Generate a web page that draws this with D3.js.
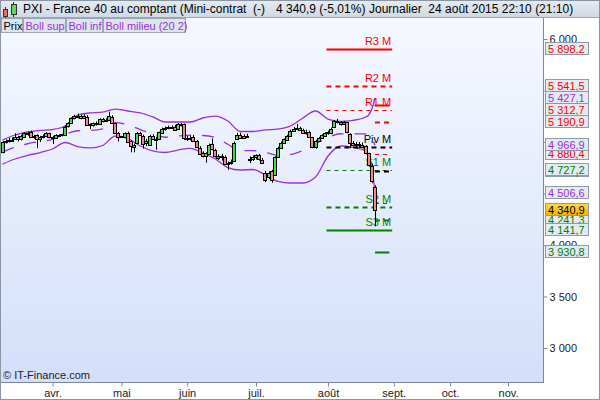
<!DOCTYPE html>
<html>
<head>
<meta charset="utf-8">
<script src="https://cdn.jsdelivr.net/npm/d3@7"></script>
<style>
body { margin: 0; background: #fff; }
svg { display: block; font-family: "Liberation Sans", Arial, sans-serif; }
text { white-space: pre; }
</style>
</head>
<body>
<svg width="600" height="400"></svg>
<script>
// daily candles, 10 mars -> 24 août 2015 (one entry per session)
var opens = [4900,5000,5010,5022,5030,5050,5030,5045,5085,5095,5050,5065,5030,5050,5060,5085,
  5045,5040,5065,5062,5075,5150,5180,5230,5250,5255,5240,5245,5170,5160,5180,5170,5220,5205,5215,5245,5185,5085,
  5045,5050,5085,5005,4955,4985,5085,5060,4985,4975,5060,5030,5030,5095,5130,5140,5150,5150,5125,5175,5170,
  5030,5040,5045,5010,4945,4890,4860,4890,4980,4925,4865,4850,4855,4790,4800,4825,5030,5070,5045,5060,4830,4835,
  4850,4870,4830,4700,4660,4720,4680,4860,4945,4995,5020,5065,5110,5130,5140,5120,5090,5100,5045,4950,5010,5040,5060,
  5085,5095,5140,5200,5190,5175,5190,5080,4990,4975,4985,4975,4960,4890,4770,4565];
var highs = [5010,5025,5040,5045,5085,5060,5070,5095,5100,5110,5070,5075,5060,5075,5095,5090,
  5060,5075,5075,5080,5160,5190,5240,5265,5275,5265,5270,5260,5180,5190,5200,5230,5235,5230,5295,5260,5190,5095,
  5060,5095,5100,5020,4985,5095,5100,5070,5030,5070,5075,5050,5100,5140,5150,5160,5160,5165,5185,5185,5180,
  5060,5065,5070,5020,4960,4910,4900,4985,5035,4935,4880,4885,4870,4810,4830,5005,5090,5090,5075,5080,4860,4870,
  4880,4885,4845,4720,4715,4730,4860,4955,5005,5035,5070,5120,5145,5175,5150,5130,5120,5110,5050,5020,5050,5075,5095,
  5110,5140,5215,5225,5200,5205,5195,5085,5010,5000,5000,4995,4970,4895,4790,4580];
var lows = [4890,4985,4995,5000,5020,5005,5015,5040,5060,5045,5030,4940,5000,5035,5050,5035,
  4980,5030,5055,5055,5065,5140,5175,5220,5230,5220,5225,5160,5125,5150,5160,5165,5190,5195,5210,5180,5085,5005,
  5040,5045,4995,4900,4900,4980,5060,4935,4960,4965,5025,4925,5020,5085,5110,5125,5130,5115,5120,5150,5020,
  5010,5015,5000,4940,4880,4850,4800,4885,4920,4850,4825,4820,4775,4730,4780,4820,5020,5030,5035,5040,4795,4815,
  4830,4820,4790,4610,4640,4605,4670,4850,4935,4985,5010,5060,5100,5115,5110,5080,5070,5045,4940,4935,5000,5030,5050,
  5070,5085,5135,5180,5160,5165,5085,4940,4955,4950,4940,4950,4880,4760,4600,4180];
var closes = [5000,5010,5022,5015,5050,5030,5060,5085,5090,5050,5060,5030,5050,5060,5085,5045,
  5040,5065,5062,5075,5150,5180,5230,5250,5255,5240,5255,5170,5160,5180,5175,5220,5205,5215,5255,5190,5090,5045,
  5055,5085,5000,4955,4975,5085,5070,4985,5005,5060,5030,5025,5095,5130,5140,5150,5140,5125,5175,5165,5030,
  5040,5035,5010,4950,4890,4865,4890,4975,4930,4870,4850,4860,4790,4800,4805,4995,5070,5045,5060,5055,4835,4850,
  4870,4830,4800,4630,4700,4630,4850,4945,4995,5030,5060,5110,5130,5140,5120,5090,5100,5055,4950,5010,5040,5065,5085,
  5095,5130,5200,5190,5175,5195,5090,4990,4975,4985,4975,4960,4895,4770,4620,4340.9];

// Bollinger (20, 2) at these sessions
var bandIdx    = [0,4,8,12,16,20,24,28,32,36,40,44,48,52,56,60,64,68,72,76,80,84,88,92,96,100,104,108,112,116,117,118,119];
var bandUpper  = [5019,5068,5097,5112,5121,5155,5262,5282,5291,5320,5301,5282,5243,5194,5194,5194,5233,5252,5204,5102,5102,5117,5126,5155,5233,5301,5223,5199,5210,5243,5262,5320,5427.1];
var bandLower  = [4786,4835,4869,4898,4932,4995,4956,4942,4966,5058,5034,4961,4913,4898,4922,4939,4893,4835,4752,4728,4733,4680,4617,4602,4602,4660,4864,4961,4947,4913,4874,4767,4506.6];
var bandMiddle = [4902,4951,4983,5005,5026,5075,5109,5112,5128,5189,5167,5121,5078,5046,5058,5066,5063,5043,4978,4915,4917,4898,4871,4878,4917,4980,5043,5080,5078,5078,5068,5043,4966.9];

var monthLabels = ["avr.","mai","juin","juil.","août","sept.","oct.","nov."];
var monthIdx = [16,38,59,81,104,125,143,161.5];
var yTicks = [3000,3500,4000,4500,5000,5500,6000];

var pivotNames   = ["R3 M","R2 M","R1 M","Piv M","S1 M","S2 M","S3 M"];
var monthlyPivot = [5898.2,5541.5,5312.7,4956.0,4727.2,4370.5,4141.7];
var weeklyPivot  = [5355.2,5190.9,4880.4,4716.1,4405.6,4241.3,3930.8];
var monthlySpan = [103.5,124.5];
var weeklySpan  = [119,123.6];
var lastPrice = 4340.9;

var svg = d3.select("svg");
var plotW = 543, plotTop = 18, plotBottom = 382;

var loc = d3.formatLocale({decimal: ",", thousands: " ", grouping: [3], currency: ["", ""]});
var fmt1 = loc.format(",.1f"), fmt0 = loc.format(",.0f");

var x = d3.scaleLinear().domain([0,125]).range([2.5,393.75]);
var y = d3.scaleLinear().domain([3000,6000]).range([348,39]);

var defs = svg.append("defs");
var bg = defs.append("linearGradient").attr("id","bg").attr("x1",0).attr("y1",0).attr("x2",0).attr("y2",1);
bg.append("stop").attr("offset","0%").attr("stop-color","#f6f8fe");
bg.append("stop").attr("offset","100%").attr("stop-color","#d3dffa");
var hd = defs.append("linearGradient").attr("id","hd").attr("x1",0).attr("y1",0).attr("x2",0).attr("y2",1);
hd.append("stop").attr("offset","0%").attr("stop-color","#e6ebf2");
hd.append("stop").attr("offset","100%").attr("stop-color","#cfd8e3");
var yl = defs.append("linearGradient").attr("id","yl").attr("x1",0).attr("y1",0).attr("x2",0).attr("y2",1);
yl.append("stop").attr("offset","0%").attr("stop-color","#ffd84a");
yl.append("stop").attr("offset","100%").attr("stop-color","#f2b200");
defs.append("clipPath").attr("id","clip").append("rect")
  .attr("x",0).attr("y",plotTop).attr("width",plotW).attr("height",plotBottom-plotTop);

// plot background
svg.append("rect").attr("x",0).attr("y",plotTop).attr("width",plotW).attr("height",plotBottom-plotTop)
  .attr("fill","url(#bg)");

var plot = svg.append("g").attr("clip-path","url(#clip)");

// bollinger bands
var bandLine = function(vals) {
  return d3.line().x(function(d){ return x(d); }).y(function(d,i){ return y(vals[i]); })
    .curve(d3.curveMonotoneX)(bandIdx);
};
plot.append("path").attr("d",bandLine(bandUpper)).attr("fill","none").attr("stroke","#9b30d6").attr("stroke-width",1.3);
plot.append("path").attr("d",bandLine(bandLower)).attr("fill","none").attr("stroke","#9b30d6").attr("stroke-width",1.3);
plot.append("path").attr("d",bandLine(bandMiddle)).attr("fill","none").attr("stroke","#9b30d6").attr("stroke-width",1.3)
  .attr("stroke-dasharray","12,11");

// pivot levels
var pivColor = ["#ff0000","#ff0000","#ff0000","#000000","#008000","#008000","#008000"];
var pivWidth = [2,2,1,2,1,2,2];
var pivDash  = [null,"5,4","4,4","5,4","4,4","5,4",null];
function drawLevels(levels, span, withNames) {
  levels.forEach(function(v,i) {
    plot.append("line").attr("x1",x(span[0])).attr("x2",x(span[1]))
      .attr("y1",Math.round(y(v))+0.5).attr("y2",Math.round(y(v))+0.5)
      .attr("stroke",pivColor[i]).attr("stroke-width",pivWidth[i])
      .attr("stroke-dasharray",pivDash[i]);
    if (withNames) {
      plot.append("text").attr("x",x(span[1])-1).attr("y",y(v)-4).attr("text-anchor","end")
        .attr("font-size",11).attr("fill",pivColor[i]).text(pivotNames[i]);
    }
  });
}
drawLevels(monthlyPivot, monthlySpan, true);
drawLevels(weeklyPivot, weeklySpan, false);

// candles
var idx = d3.range(closes.length);
var candle = plot.selectAll(".candle").data(idx).enter().append("g").attr("class","candle");
candle.append("line")
  .attr("x1",function(i){ return Math.round(x(i))+0.5; }).attr("x2",function(i){ return Math.round(x(i))+0.5; })
  .attr("y1",function(i){ return y(highs[i]); }).attr("y2",function(i){ return y(lows[i]); })
  .attr("stroke","#000").attr("stroke-width",1);
candle.append("rect")
  .attr("x",function(i){ return Math.round(x(i))-1.5; })
  .attr("width",3)
  .attr("y",function(i){ return Math.round(y(Math.max(opens[i],closes[i])))+0.5; })
  .attr("height",function(i){ return Math.max(1, Math.round(Math.abs(y(opens[i])-y(closes[i])))); })
  .attr("fill",function(i){ return closes[i] >= opens[i] ? "#52d452" : "#f08a82"; })
  .attr("stroke","#000").attr("stroke-width",1);

// frame / axes
svg.append("line").attr("x1",plotW+0.5).attr("x2",plotW+0.5).attr("y1",plotTop).attr("y2",plotBottom)
  .attr("stroke","#7c8896");
svg.append("line").attr("x1",0).attr("x2",plotW+1).attr("y1",plotBottom+0.5).attr("y2",plotBottom+0.5)
  .attr("stroke","#7c8896");
svg.append("line").attr("x1",0.5).attr("x2",0.5).attr("y1",plotTop).attr("y2",plotBottom)
  .attr("stroke","#5d6a78");

var yAxis = svg.append("g").attr("transform","translate(" + (plotW+0.5) + ",0)")
  .call(d3.axisRight(y).tickValues(yTicks).tickFormat(fmt0).tickSize(4).tickPadding(2).tickSizeOuter(0));
yAxis.select(".domain").remove();
yAxis.selectAll("line").attr("stroke","#7c8896");
yAxis.selectAll("text").attr("font-size",11).attr("font-family","Liberation Sans, Arial, sans-serif").attr("fill","#222");

var xAxis = svg.append("g").attr("transform","translate(0," + (plotBottom+0.5) + ")")
  .call(d3.axisBottom(x).tickValues(monthIdx).tickFormat(function(d,i){ return monthLabels[i]; })
    .tickSize(4).tickPadding(3).tickSizeOuter(0));
xAxis.select(".domain").remove();
xAxis.selectAll("line").attr("stroke","#7c8896");
xAxis.selectAll("text").attr("font-size",11).attr("font-family","Liberation Sans, Arial, sans-serif").attr("fill","#222");

// price labels on the right, later ones drawn on top
var n = bandIdx.length - 1;
var priceLabels = [
  [weeklyPivot[3],"#000000"], [weeklyPivot[5],"#008000"], [weeklyPivot[2],"#ff0000"],
  [monthlyPivot[1],"#ff0000"], [monthlyPivot[2],"#ff0000"], [monthlyPivot[0],"#ff0000"],
  [bandUpper[n],"#9b30d6"], [weeklyPivot[1],"#ff0000"], [bandMiddle[n],"#9b30d6"],
  [monthlyPivot[4],"#008000"], [bandLower[n],"#9b30d6"], [monthlyPivot[6],"#008000"],
  [weeklyPivot[6],"#008000"], [lastPrice,"#000000"]
];
priceLabels.forEach(function(p,i) {
  var g = svg.append("g").attr("transform","translate(545.5," + (Math.round(y(p[0]))-6.5) + ")");
  g.append("rect").attr("width",43).attr("height",12)
    .attr("fill", i === priceLabels.length-1 ? "url(#yl)" : "#e4eaf3")
    .attr("stroke","#8e9aa8");
  g.append("text").attr("x",2.5).attr("y",10).attr("font-size",11).attr("fill",p[1]).text(fmt1(p[0]));
});

// header
svg.append("rect").attr("x",0).attr("y",0).attr("width",600).attr("height",plotTop).attr("fill","url(#hd)");
svg.append("line").attr("x1",0).attr("x2",600).attr("y1",plotTop-0.5).attr("y2",plotTop-0.5).attr("stroke","#9aa6b3");
var icon = svg.append("g");
icon.append("line").attr("x1",5.5).attr("x2",5.5).attr("y1",7).attr("y2",18).attr("stroke","#333");
icon.append("rect").attr("x",3.5).attr("y",9.5).attr("width",4).attr("height",7).attr("fill","#ee6a6a").attr("stroke","#333");
icon.append("line").attr("x1",13.5).attr("x2",13.5).attr("y1",2).attr("y2",17).attr("stroke","#333");
icon.append("rect").attr("x",11.5).attr("y",4.5).attr("width",5).attr("height",10).attr("fill","#55dd55").attr("stroke","#333");

var title = svg.append("g").attr("font-size",12).attr("fill","#000");
title.append("text").attr("x",23).attr("y",13).text("PXI - France 40 au comptant (Mini-contrat  (-)");
title.append("text").attr("x",276).attr("y",13).text(fmt1(lastPrice) + " (-5,01%)");
title.append("text").attr("x",369).attr("y",13).text("Journalier  24 août 2015 22:10 (21:10)");

// series legend
var legendItems = [["Prix","#000",1,22],["Boll sup","#9b30d6",23,43],["Boll inf","#9b30d6",66,37],["Boll milieu (20 2)","#9b30d6",103,83]];
legendItems.forEach(function(l) {
  svg.append("rect").attr("x",l[2]+0.5).attr("y",18.5).attr("width",l[3]-1).attr("height",14)
    .attr("fill","#dde4ee").attr("stroke","#9aa6b3");
  svg.append("text").attr("x",l[2]+2.5).attr("y",29.5).attr("font-size",11).attr("fill",l[1]).text(l[0]);
});

svg.append("text").attr("x",3).attr("y",379).attr("font-size",11).attr("fill","#222").text("\u00a9 IT-Finance.com");

svg.append("rect").attr("x",0.5).attr("y",0.5).attr("width",599).attr("height",399)
  .attr("fill","none").attr("stroke","#8a96a3");
</script>
</body>
</html>
